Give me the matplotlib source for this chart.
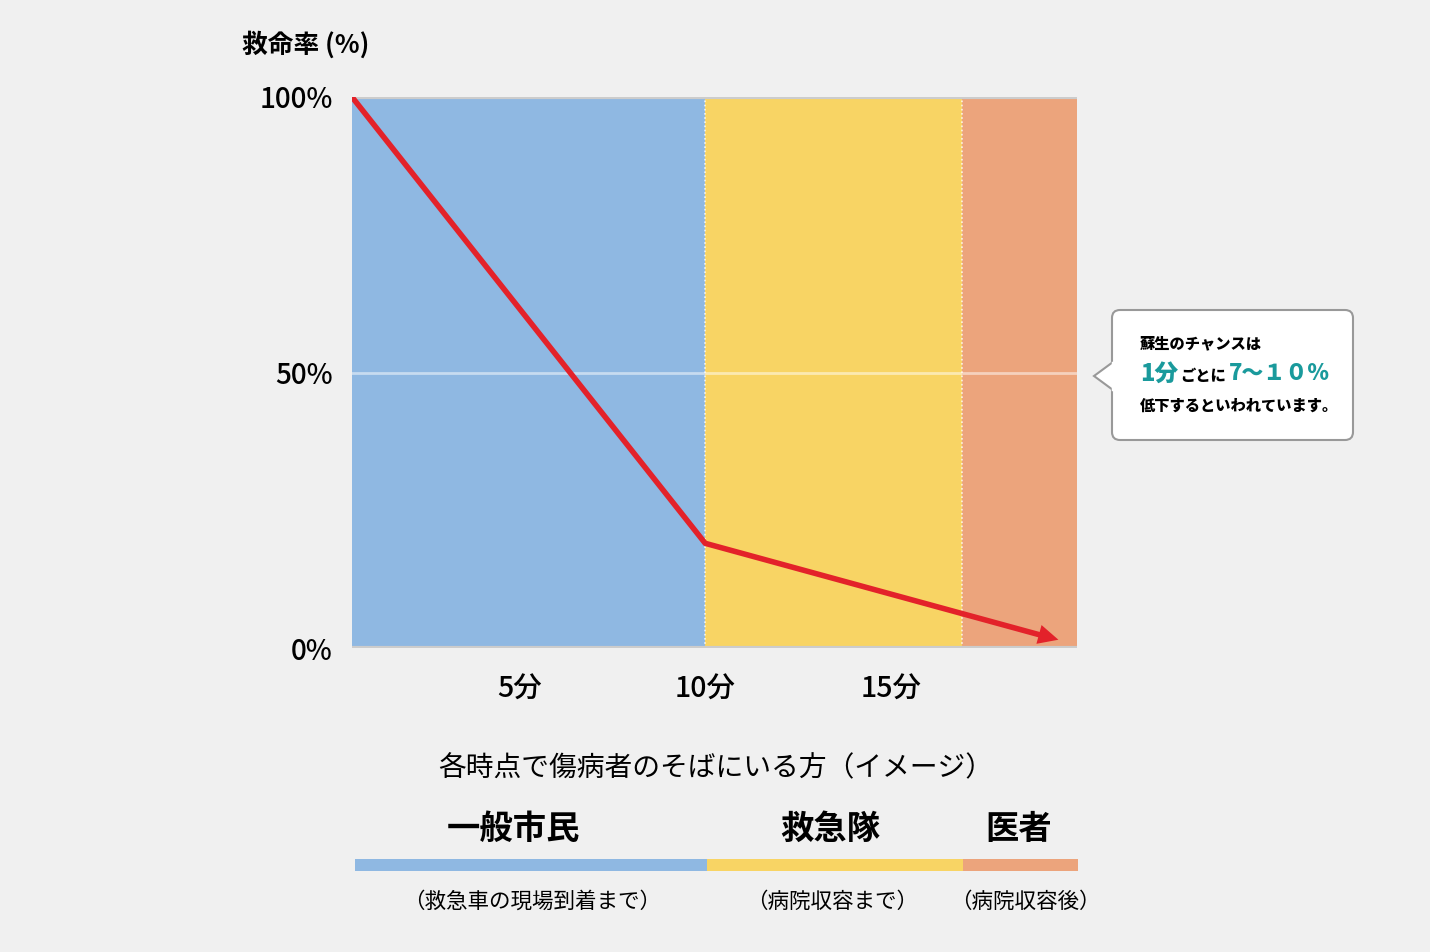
import matplotlib
matplotlib.use("Agg")
import matplotlib.pyplot as plt
from matplotlib.patches import FancyBboxPatch, Polygon

plt.rcParams['font.family'] = ['Noto Sans CJK JP', 'DejaVu Sans']

# data
line_x = [0.5, 10, 19.5]
line_y = [100, 19, 1.5]
zone_edges = [0.5, 10, 16.9, 20]
zone_colors = ['#8fb8e2', '#f8d464', '#eca47c']
zone_names = ['一般市民', '救急隊', '医者']
zone_notes = ['（救急車の現場到着まで）', '（病院収容まで）', '（病院収容後）']
xticks = [5, 10, 15]
xtick_labels = ['5分', '10分', '15分']
yticks = [0, 50, 100]
ytick_labels = ['0%', '50%', '100%']

bg = '#f0f0f0'
fig = plt.figure(figsize=(14.3, 9.52), dpi=100, facecolor=bg)
ax = fig.add_axes([352/1430, 1-648/952, 725/1430, 551/952])
ax.set_facecolor(bg)

for i in range(3):
    ax.axvspan(zone_edges[i], zone_edges[i+1], color=zone_colors[i], lw=0, zorder=0)
for xb in zone_edges[1:3]:
    ax.axvline(xb, color='white', lw=1.2, ls=(0, (1, 1.5)), alpha=0.8, zorder=1)
ax.axhline(50, color='white', lw=2, alpha=0.5, zorder=1)
ax.axhline(100, color='#cccccc', lw=3, zorder=1)
ax.axhline(0, color='#cccccc', lw=3, zorder=1)

ax.plot(line_x[:2] + [line_x[2] - 0.4], line_y[:2] + [line_y[2] + 0.7],
        color='#e3222a', lw=4, solid_capstyle='butt', zorder=3)
ax.annotate('', xy=(line_x[2], line_y[2]), xytext=(line_x[1], line_y[1]),
            arrowprops=dict(arrowstyle='-|>,head_length=1.45,head_width=0.7',
                            color='#e3222a', lw=0, shrinkA=0, shrinkB=0), zorder=4)

ax.set_xlim(zone_edges[0], zone_edges[-1])
ax.set_ylim(0, 100)
ax.set_xticks(xticks)
ax.set_xticklabels(xtick_labels, fontsize=20.5, fontweight='medium')
ax.set_yticks(yticks)
ax.set_yticklabels(ytick_labels, fontsize=20, fontweight='medium')
ax.tick_params(length=0, pad=14, axis='y')
ax.tick_params(length=0, pad=19, axis='x')
for s in ax.spines.values():
    s.set_visible(False)

fig.text(242/1430, 1-45/952, '救命率 (%)', fontsize=18.5, fontweight='bold', va='center')

# callout
cb = fig.add_axes([0, 0, 1, 1], facecolor='none')
cb.set_xlim(0, 1430)
cb.set_ylim(952, 0)
cb.axis('off')
box = FancyBboxPatch((1112, 310), 241, 130, boxstyle='round,pad=0,rounding_size=8',
                     fc='white', ec='#999999', lw=1.5)
cb.add_patch(box)
cb.add_patch(Polygon([[1113, 362], [1094, 376], [1113, 390]], closed=False,
                     fc='white', ec='#999999', lw=1.5))
cb.plot([1112.8, 1112.8], [363, 389], color='white', lw=2.5)
cb.text(1140, 344, '蘇生のチャンスは', fontsize=11, fontweight='heavy', va='center')
teal = '#1a9a9c'
cb.text(1140, 374, '1分', fontsize=17, fontweight='heavy', color=teal, va='center')
cb.text(1180, 376, 'ごとに', fontsize=11, fontweight='heavy', va='center')
cb.text(1229, 374, '7～１０%', fontsize=15.8, fontweight='heavy', color=teal, va='center')
cb.text(1140, 406, '低下するといわれています。', fontsize=11, fontweight='heavy', va='center')

# legend band
cb.text(716, 768, '各時点で傷病者のそばにいる方（イメージ）', fontsize=20, ha='center', va='center')
x0, x1 = 355, 1078
scale = (x1 - x0) / (zone_edges[-1] - zone_edges[0])
for i in range(3):
    a = x0 + (zone_edges[i] - zone_edges[0]) * scale
    b = x0 + (zone_edges[i+1] - zone_edges[0]) * scale
    cb.fill_between([a, b], 859, 871, color=zone_colors[i], lw=0)
name_x = [513, 830, 1019]
note_x = [532, 832, 1025]
for i in range(3):
    cb.text(name_x[i], 829, zone_names[i], fontsize=24, fontweight='bold', ha='center', va='center')
    cb.text(note_x[i], 902, zone_notes[i], fontsize=15.5, ha='center', va='center')

fig.savefig('out.png', dpi=100, facecolor=bg)
